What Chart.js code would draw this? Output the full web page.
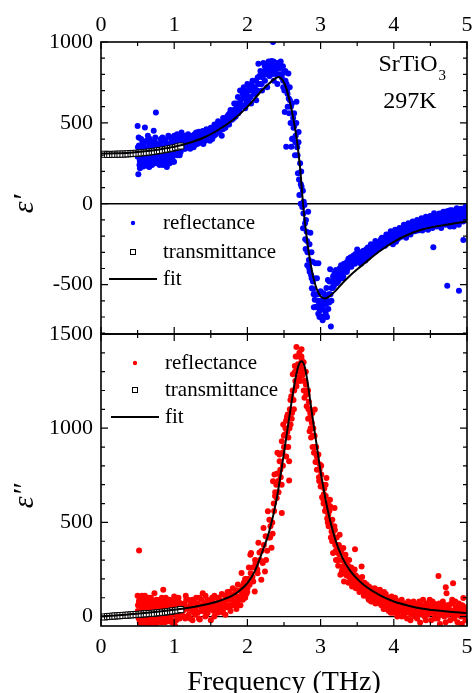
<!DOCTYPE html>
<html>
<head>
<meta charset="utf-8">
<title>SrTiO3 dielectric function</title>
<script src="https://cdn.jsdelivr.net/npm/chart.js@4.4.1/dist/chart.umd.min.js"></script>
<style>
  html, body { margin: 0; padding: 0; background: #fff; }
</style>
</head>
<body>
<canvas id="chart-eps" width="473" height="693"></canvas>
<script>
// ============================================================
// SrTiO3 297K — real (ε') and imaginary (ε'') dielectric function
// ============================================================

// ---- DATA: [frequency THz, value] ----
const reflTop = [
  [0.50,480],[0.51,183],[0.52,300],[0.53,265],[0.54,350],[0.55,240],[0.56,320],[0.57,380],[0.58,260],[0.59,300],
  [0.60,471],[0.61,250],[0.62,340],[0.63,290],[0.64,420],[0.65,230],[0.66,228],[0.67,310],[0.68,360],[0.69,270],
  [0.70,330],[0.72,451],[0.73,290],[0.74,380],[0.75,564],[0.76,250],[0.78,340],[0.79,300],[0.80,240],[0.82,380],
  [0.83,320],[0.84,410],[0.86,270],[0.87,350],[0.88,395],[0.90,228],[0.91,330],[0.92,420],[0.94,300],[0.95,370],
  [0.96,400],[0.98,290],[0.99,350],[1.00,420],[1.02,310],[1.03,380],[1.04,430],[1.06,330],[1.07,400],[1.08,350],[1.10,440],
  [1.12,360],[1.14,410],[1.15,340],[1.17,395],[1.19,430],[1.20,360],[1.22,385],[1.24,350],[1.25,420],[1.27,395],
  [1.29,365],[1.30,440],[1.32,400],[1.34,375],[1.35,430],[1.37,410],[1.39,450],[1.40,390],[1.42,425],[1.44,460],
  [1.45,405],[1.47,440],[1.49,415],
  [1.50,470],[1.52,400],[1.54,455],[1.55,490],[1.57,430],[1.59,470],[1.60,510],[1.62,445],[1.64,480],[1.65,420],
  [1.67,500],[1.69,530],[1.70,470],[1.72,510],[1.74,550],[1.75,490],[1.77,580],[1.79,520],[1.80,560],[1.82,620],
  [1.84,540],[1.85,600],[1.87,660],[1.89,580],[1.90,700],[1.92,610],[1.94,650],[1.95,720],[1.97,590],[1.99,680],[2.00,740],
  [2.02,650],[2.04,700],[2.05,620],[2.07,760],[2.09,680],[2.10,720],[2.12,640],[2.14,780],[2.15,866],[2.17,740],
  [2.19,810],[2.20,700],[2.22,870],[2.24,760],[2.25,830],[2.27,720],[2.29,880],[2.30,790],[2.32,850],[2.33,883],
  [2.35,1000],[2.36,760],[2.38,820],[2.40,870],[2.41,740],[2.43,800],[2.44,870],
  [2.46,840],[2.47,780],[2.49,720],[2.50,810],[2.51,568],[2.52,760],[2.53,352],[2.54,700],[2.55,600],[2.56,805],
  [2.57,560],[2.58,640],[2.59,500],[2.60,352],[2.61,400],[2.62,404],[2.63,470],[2.64,480],[2.65,300],[2.66,420],
  [2.67,630],[2.68,350],[2.69,188],[2.70,444],
  [2.71,54],[2.72,250],[2.73,120],[2.74,105],[2.75,-20],[2.76,-152],[2.77,12],[2.78,-8],[2.79,-220],[2.80,-100],
  [2.81,-173],[2.82,-300],[2.83,-49],[2.84,-348],[2.85,-420],[2.86,-179],[2.87,-440],[2.88,-522],[2.89,-358],[2.90,-527],
  [2.91,-460],[2.92,-594],[2.93,-368],[2.94,-636],[2.95,-461],[2.96,-560],[2.97,-368],[2.98,-620],[2.99,-660],[3.00,-540],
  [3.01,-697],[3.02,-600],[3.03,-650],[3.04,-553],[3.05,-620],[3.06,-580],[3.07,-680],[3.08,-520],[3.09,-600],[3.10,-471],
  [3.11,-560],[3.12,-481],[3.13,-405],[3.14,-759],[3.15,-520],
  [3.16,-480],[3.17,-450],[3.18,-510],[3.19,-430],[3.20,-470],[3.21,-410],[3.22,-492],[3.23,-450],[3.24,-420],[3.25,-470],
  [3.26,-400],[3.27,-440],[3.28,-380],[3.29,-430],[3.30,-400],[3.31,-450],[3.32,-370],[3.33,-410],[3.34,-390],[3.35,-420],
  [3.36,-360],[3.37,-400],[3.38,-340],[3.40,-380],[3.41,-330],[3.42,-390],[3.44,-350],[3.45,-320],[3.47,-370],[3.48,-330],[3.50,-282],
  [3.52,-360],[3.53,-330],[3.55,-370],[3.56,-310],[3.58,-340],[3.59,-300],[3.61,-350],[3.62,-320],[3.64,-290],[3.65,-330],
  [3.67,-300],[3.68,-270],[3.70,-310],[3.71,-280],[3.73,-300],[3.74,-260],[3.76,-290],[3.77,-250],[3.79,-280],[3.80,-240],
  [3.82,-270],[3.83,-230],[3.85,-250],[3.86,-220],[3.88,-260],[3.89,-230],[3.91,-200],[3.92,-240],[3.94,-210],[3.95,-230],
  [3.97,-190],[3.98,-220],
  [4.00,-215],[4.02,-195],[4.03,-235],[4.05,-185],[4.06,-215],[4.08,-175],[4.09,-205],[4.11,-165],[4.12,-200],[4.14,-175],
  [4.15,-155],[4.17,-190],[4.18,-145],[4.20,-180],[4.21,-160],[4.23,-135],[4.24,-175],[4.26,-145],[4.27,-165],[4.29,-125],
  [4.30,-160],[4.32,-140],[4.33,-165],[4.35,-120],[4.36,-150],[4.38,-130],[4.39,-165],[4.41,-115],[4.42,-145],[4.44,-125],
  [4.45,-155],[4.47,-110],[4.48,-140],
  [4.50,-120],[4.51,-90],[4.53,-140],[4.54,-269],[4.55,-58],[4.56,-110],[4.58,-80],[4.59,-130],[4.61,-70],[4.62,-100],
  [4.64,-140],[4.65,-60],[4.67,-95],[4.68,-120],[4.70,-50],[4.71,-110],[4.73,-506],[4.74,-80],[4.76,-130],[4.77,-40],
  [4.79,-100],[4.80,-70],[4.82,-140],[4.83,-50],[4.85,-90],[4.86,-28],[4.88,-120],[4.89,-537],[4.91,-60],[4.92,-100],
  [4.94,-40],[4.95,-224],[4.97,-80],[4.98,-18],[5.00,-60],
  // second sweep
  [0.505,350],[0.515,410],[0.525,240],[0.535,320],[0.545,280],[0.565,250],[0.575,300],[0.585,350],[0.605,330],[0.615,290],
  [0.625,260],[0.645,300],[0.655,370],[0.675,250],[0.685,300],[0.705,280],[0.715,380],[0.725,350],[0.745,270],[0.765,330],
  [0.775,290],[0.805,360],[0.815,280],[0.835,250],[0.845,350],[0.865,310],[0.885,260],[0.895,370],[0.925,280],[0.935,360],
  [0.955,320],[0.975,390],[0.985,260],[1.005,350],[1.015,400],[1.035,330],[1.055,410],[1.075,300],[1.085,380],[1.095,340],
  [1.115,420],[1.135,340],[1.165,380],[1.185,350],[1.215,410],[1.235,380],[1.265,350],[1.285,410],[1.315,370],[1.345,420],
  [1.365,385],[1.395,410],[1.425,390],[1.455,430],[1.485,450],[1.515,440],[1.545,420],[1.575,480],[1.605,460],[1.635,500],
  [1.665,460],[1.695,490],[1.725,540],[1.755,520],[1.785,560],[1.815,530],[1.845,580],[1.875,560],[1.905,640],[1.935,680],
  [1.965,650],[1.985,620],[2.015,700],[2.045,660],[2.075,720],[2.105,680],[2.135,700],[2.165,790],[2.195,740],[2.215,800],
  [2.245,820],[2.275,860],[2.305,830],[2.335,800],[2.365,850],[2.395,800],[2.425,840],
  [2.455,880],[2.485,850],[2.505,700],[2.535,740],[2.565,650],[2.595,600],[2.625,530],[2.655,380],[2.685,300],[2.705,150],
  [2.735,200],[2.765,-60],[2.795,-280],[2.815,-230],[2.845,-400],[2.875,-300],[2.895,-480],
  [2.905,-560],[2.935,-640],[2.965,-600],[2.985,-700],[3.015,-640],[3.045,-700],[3.075,-620],[3.105,-650],[3.135,-560],
  [3.165,-520],[3.195,-480],[3.225,-460],[3.255,-440],[3.285,-420],[3.315,-410],[3.345,-380],[3.375,-370],[3.405,-360],[3.435,-330],
  [3.465,-340],[3.495,-320],[3.525,-310],[3.555,-330],[3.585,-290],[3.615,-300],[3.645,-270],[3.675,-290],[3.705,-260],[3.735,-280],
  [3.765,-240],[3.795,-260],[3.825,-220],[3.855,-240],[3.885,-210],[3.915,-220],[3.945,-190],[3.975,-205],[4.005,-180],[4.035,-200],
  [4.065,-160],[4.095,-185],[4.125,-150],[4.155,-170],[4.185,-140],[4.215,-160],[4.245,-130],[4.275,-150],[4.305,-120],[4.335,-135],
  [4.365,-110],[4.395,-130],[4.425,-100],[4.455,-120],[4.485,-90],[4.515,-115],[4.545,-95],[4.575,-120],[4.605,-85],[4.635,-110],
  [4.665,-75],[4.695,-100],[4.725,-65],[4.755,-95],[4.785,-60],[4.815,-90],[4.845,-55],[4.875,-80],[4.905,-45],[4.935,-85],
  [4.965,-50],[4.985,-75],
  // third sweep
  [0.502,290],[0.518,360],[0.532,220],[0.548,400],[0.562,340],[0.578,230],[0.592,380],[0.608,270],[0.622,390],[0.638,320],
  [0.652,260],[0.668,400],[0.682,330],[0.698,240],[0.712,300],[0.728,260],[0.742,410],[0.758,300],[0.772,360],[0.788,260],
  [0.802,310],[0.818,400],[0.832,290],[0.848,240],[0.862,390],[0.878,300],[0.892,340],[0.908,280],[0.922,370],[0.938,250],
  [0.952,410],[0.968,340],[0.982,310],[0.998,260],[1.012,360],[1.028,420],[1.042,300],[1.058,370],[1.072,420],[1.088,320],
  [1.128,380],[1.158,420],[1.188,400],[1.218,340],[1.248,400],[1.278,430],[1.308,380],[1.338,445],[1.368,400],[1.398,370],
  [1.428,440],[1.458,420],[1.488,390],[1.518,460],[1.548,470],[1.578,450],[1.608,480],[1.638,460],[1.668,530],[1.698,510],
  [1.728,490],[1.758,560],[1.788,540],[1.818,580],[1.848,620],[1.878,610],[1.908,600],[1.938,700],[1.968,690],[1.998,640],
  [2.028,720],[2.058,740],[2.088,700],[2.118,760],[2.148,740],[2.178,820],[2.208,780],[2.238,850],[2.268,800],[2.298,860],
  [2.328,820],[2.358,880],[2.388,850],[2.418,860],
  [2.458,800],[2.488,760],[2.518,820],[2.548,680],[2.578,720],[2.608,620],[2.638,560],[2.668,500],[2.698,380],[2.728,0],
  [2.758,80],[2.788,-120],[2.818,-380],[2.848,-250],[2.878,-460],[2.908,-640],[2.938,-560],[2.968,-680],[2.998,-600],[3.028,-720],
  [3.058,-660],[3.088,-700],[3.118,-610],[3.148,-600],
  [3.178,-500],[3.208,-440],[3.238,-480],[3.268,-420],[3.298,-460],[3.328,-390],[3.358,-420],[3.388,-350],[3.418,-380],[3.448,-360],
  [3.478,-310],[3.508,-350],[3.538,-300],[3.568,-340],[3.598,-320],[3.628,-280],[3.658,-310],[3.688,-250],[3.718,-290],[3.748,-230],
  [3.778,-270],[3.808,-250],[3.838,-210],[3.868,-250],[3.898,-190],[3.928,-230],[3.958,-170],[3.988,-250],[4.018,-160],[4.048,-220],
  [4.078,-150],[4.108,-200],[4.138,-130],[4.168,-210],[4.198,-120],[4.228,-190],[4.258,-110],[4.288,-170],[4.318,-100],[4.348,-160],
  [4.378,-90],[4.408,-150],[4.438,-80],[4.468,-160],[4.498,-75],[4.528,-150],[4.558,-70],[4.588,-140],[4.618,-60],[4.648,-150],
  [4.678,-50],[4.708,-130],[4.738,-45],[4.768,-140],[4.798,-40],[4.828,-120],[4.858,-35],[4.888,-130],[4.918,-30],[4.948,-110],
  [4.978,-40]
];

const reflBot = [
  [0.50,110],[0.51,20],[0.52,351],[0.53,-30],[0.54,60],[0.55,-44],[0.56,110],[0.57,40],[0.58,0],[0.59,80],
  [0.60,110],[0.61,-20],[0.62,50],[0.63,20],[0.64,-40],[0.65,70],[0.66,10],[0.67,90],[0.68,-35],[0.69,30],
  [0.70,60],[0.72,-10],[0.73,124],[0.74,40],[0.75,-40],[0.76,20],[0.78,70],[0.79,-20],[0.80,50],[0.82,10],
  [0.83,80],[0.84,-30],[0.85,142],[0.86,30],[0.88,60],[0.89,0],[0.90,90],[0.92,20],[0.93,-25],[0.94,50],
  [0.96,75],[0.97,10],[0.98,40],[1.00,106],[1.01,-48],[1.02,30],[1.04,60],[1.05,0],[1.06,80],[1.08,20],[1.10,50],
  [1.12,30],[1.14,70],[1.15,-10],[1.17,50],[1.19,90],[1.20,10],[1.22,60],[1.24,30],[1.25,-20],[1.27,80],
  [1.29,40],[1.30,100],[1.32,20],[1.34,60],[1.35,-15],[1.37,50],[1.39,124],[1.40,30],[1.42,70],[1.44,10],
  [1.45,90],[1.47,40],[1.49,60],[1.50,-20],[1.52,80],[1.54,30],[1.55,110],[1.57,50],[1.59,70],
  [1.60,20],[1.62,90],[1.64,60],[1.65,120],[1.67,40],[1.69,80],[1.70,10],[1.72,100],[1.74,60],[1.75,130],
  [1.77,30],[1.79,90],[1.80,150],[1.82,60],[1.84,110],[1.85,40],[1.87,170],[1.89,90],[1.90,140],[1.92,231],
  [1.94,120],[1.95,180],
  [1.97,100],[1.99,200],[2.00,150],[2.02,260],[2.03,169],[2.04,328],[2.05,337],[2.07,210],[2.08,186],[2.10,133],
  [2.11,280],[2.12,275],[2.14,230],[2.15,392],[2.17,300],[2.19,195],[2.20,293],[2.21,284],[2.22,470],[2.24,239],
  [2.25,426],[2.27,350],[2.28,559],[2.30,514],[2.31,420],[2.33,365],[2.34,500],
  [2.35,718],[2.36,600],[2.37,754],[2.38,660],[2.40,630],[2.41,869],[2.42,720],[2.44,824],[2.45,780],[2.47,931],
  [2.47,550],[2.48,870],[2.49,1020],[2.50,900],[2.51,966],[2.52,1000],[2.53,850],[2.54,1060],[2.55,1073],[2.56,950],
  [2.57,824],[2.57,723],[2.58,1100],[2.59,1020],[2.60,1170],
  [2.61,1080],[2.62,1286],[2.63,1150],[2.64,1200],[2.65,1300],[2.66,1380],[2.67,1431],[2.67,1222],[2.68,1250],[2.69,1340],
  [2.70,1300],[2.71,1400],[2.72,1250],[2.73,1330],[2.74,1419],[2.74,1365],[2.75,1280],[2.76,1310],[2.77,1200],[2.78,1162],
  [2.79,1250],[2.80,1230],
  [2.81,1117],[2.82,1180],[2.83,1050],[2.84,1140],[2.85,984],[2.86,1060],[2.87,950],[2.88,1029],[2.89,900],[2.90,1000],
  [2.91,870],[2.92,1099],[2.93,820],[2.94,900],[2.95,780],[2.96,860],[2.97,860],[2.98,720],[2.99,807],[3.00,690],
  [3.01,754],[3.02,633],[3.03,700],[3.04,600],[3.05,680],[3.06,560],[3.07,640],[3.08,736],[3.09,520],[3.10,600],
  [3.11,480],[3.12,560],[3.13,585],[3.14,420],[3.15,452],[3.16,514],[3.17,337],[3.18,400],[3.19,577],[3.20,380],
  [3.21,300],[3.22,420],[3.23,340],[3.24,270],[3.25,380],[3.26,435],[3.27,222],[3.28,300],[3.29,239],[3.30,266],
  [3.31,364],[3.32,186],[3.33,280],[3.34,328],[3.35,220],
  [3.36,250],[3.38,180],[3.39,300],[3.40,248],[3.41,200],[3.43,160],[3.44,230],[3.46,190],[3.47,358],[3.48,150],
  [3.50,210],[3.51,170],[3.53,130],[3.54,200],[3.56,266],[3.57,150],[3.59,110],[3.60,180],[3.62,130],[3.63,142],
  [3.65,100],[3.66,160],[3.68,120],[3.69,80],[3.71,140],[3.72,100],[3.74,150],[3.75,70],[3.77,120],[3.78,90],
  [3.80,110],[3.81,142],[3.83,60],[3.84,100],[3.86,40],[3.87,90],[3.89,120],[3.90,50],[3.92,80],[3.93,30],
  [3.95,100],[3.96,60],[3.97,106],[3.99,20],[4.00,70],[4.02,40],[4.03,90],[4.05,10],[4.06,60],[4.08,30],
  [4.09,80],[4.11,0],[4.12,50],[4.14,20],[4.15,70],[4.17,30],[4.18,-10],[4.20,50],[4.21,20],[4.23,60],
  [4.24,10],[4.26,40],[4.27,80],[4.29,0],
  [4.30,30],[4.31,62],[4.33,10],[4.34,50],[4.36,-32],[4.37,20],[4.39,60],[4.40,89],[4.42,0],[4.43,40],
  [4.45,70],[4.46,10],[4.48,30],[4.49,89],[4.51,-20],[4.52,50],[4.54,20],[4.55,70],[4.57,0],[4.58,40],
  [4.60,-10],[4.61,216],[4.63,-39],[4.64,60],[4.66,20],[4.67,80],[4.69,0],[4.70,40],[4.71,156],[4.72,124],
  [4.74,10],[4.75,60],[4.77,-20],[4.78,30],[4.80,70],[4.81,177],[4.82,0],[4.84,80],[4.85,30],[4.87,-30],
  [4.88,50],[4.90,10],[4.91,60],[4.93,-40],[4.94,30],[4.95,99],[4.97,0],[4.98,50],[5.00,36],
  // second sweep
  [0.505,60],[0.515,-10],[0.525,90],[0.535,30],[0.545,-20],[0.565,50],[0.575,-30],[0.585,100],[0.605,20],[0.615,70],
  [0.625,-40],[0.645,40],[0.655,100],[0.675,0],[0.685,50],[0.705,-20],[0.715,80],[0.725,30],[0.745,70],[0.765,-10],
  [0.775,40],[0.805,90],[0.815,-30],[0.835,40],[0.845,70],[0.865,-10],[0.885,100],[0.895,30],[0.925,60],[0.935,0],
  [0.955,40],[0.975,70],[0.985,-20],[1.005,50],[1.015,20],[1.035,90],[1.055,40],[1.075,-10],[1.085,60],[1.095,30],
  [1.115,60],[1.135,0],[1.165,90],[1.185,40],[1.215,-10],[1.235,70],[1.265,40],[1.285,10],[1.315,70],[1.345,100],
  [1.365,30],[1.395,60],[1.425,0],[1.455,50],[1.485,80],[1.515,40],[1.545,60],[1.575,100],[1.605,50],[1.635,30],
  [1.665,80],[1.695,110],[1.725,50],[1.755,90],[1.785,60],[1.815,120],[1.845,80],[1.875,100],[1.905,60],[1.935,160],
  [1.965,140],[1.985,120],[2.015,200],[2.045,230],[2.075,260],[2.105,300],[2.135,250],[2.165,340],[2.195,350],[2.225,380],
  [2.255,300],[2.285,420],[2.315,480],[2.345,440],
  [2.365,560],[2.395,700],[2.425,660],[2.455,740],[2.485,800],[2.515,900],[2.545,980],[2.575,1000],[2.605,1050],[2.635,1100],
  [2.655,1250],[2.685,1320],[2.715,1340],[2.745,1300],[2.775,1250],[2.805,1180],[2.835,1100],[2.865,1000],[2.895,960],[2.925,900],
  [2.955,820],[2.985,780],[3.015,700],[3.045,650],[3.075,580],[3.105,540],[3.135,500],[3.165,440],[3.195,460],[3.225,380],
  [3.255,330],[3.285,340],[3.315,300],[3.345,260],[3.375,270],[3.405,230],[3.435,200],[3.465,250],[3.495,180],[3.525,190],
  [3.555,160],[3.585,170],[3.615,150],[3.645,120],[3.675,140],[3.705,110],[3.735,120],[3.765,100],[3.795,80],[3.825,120],
  [3.855,70],[3.885,90],[3.915,60],[3.945,80],[3.975,50],[4.005,60],[4.035,30],[4.065,50],[4.095,40],[4.125,70],
  [4.155,20],[4.185,50],[4.215,30],[4.245,70],[4.275,20],[4.305,50],[4.335,30],[4.365,60],[4.395,10],[4.425,50],
  [4.455,30],[4.485,60],[4.515,20],[4.545,40],[4.575,60],[4.605,20],[4.635,50],[4.665,30],[4.695,60],[4.725,20],
  [4.755,40],[4.785,70],[4.815,30],[4.845,50],[4.875,10],[4.905,40],[4.935,60],[4.965,20],[4.985,40],
  // third sweep
  [0.502,30],[0.518,80],[0.532,-20],[0.548,100],[0.562,10],[0.578,60],[0.592,-40],[0.608,90],[0.622,30],[0.638,-10],
  [0.652,60],[0.668,-30],[0.682,100],[0.698,40],[0.712,-5],[0.728,70],[0.742,-30],[0.758,90],[0.772,10],[0.788,50],
  [0.802,-10],[0.818,60],[0.832,100],[0.848,10],[0.862,50],[0.878,-30],[0.892,70],[0.908,40],[0.922,-10],[0.938,90],
  [0.952,20],[0.968,-30],[0.982,80],[0.998,30],[1.012,70],[1.028,-20],[1.042,40],[1.058,100],[1.072,20],[1.088,70],
  [1.128,40],[1.158,110],[1.188,0],[1.218,50],[1.248,90],[1.278,20],[1.308,60],[1.338,-10],[1.368,90],[1.398,40],
  [1.428,110],[1.458,20],[1.488,70],[1.518,100],[1.548,0],[1.578,60],[1.608,100],[1.638,70],[1.668,20],[1.698,60],
  [1.728,130],[1.758,50],[1.788,110],[1.818,80],[1.848,140],[1.878,60],[1.908,110],[1.938,90],[1.968,200],[1.998,130],
  [2.378,640],[2.408,760],[2.438,860],[2.468,700],[2.498,960],[2.528,1040],[2.558,900],[2.588,1150],[2.618,1200],[2.648,1330],
  [2.678,1380],[2.708,1270],[2.738,1380],[2.768,1350],[2.798,1300],[2.828,1200],[2.858,1080],[2.888,1080],[2.918,960],[2.948,850],
  [2.978,740],[3.008,800],[3.038,620],[3.068,700],[3.098,500],[3.128,620],[3.158,400],[3.188,480],
  [3.208,350],[3.238,300],[3.268,360],[3.298,250],[3.328,230],[3.358,300],[3.388,210],[3.418,260],[3.448,170],[3.478,220],
  [3.508,150],[3.538,180],[3.568,210],[3.598,130],[3.628,170],[3.658,90],[3.688,150],[3.718,80],[3.748,120],[3.778,140],
  [3.808,70],[3.838,90],[3.868,130],[3.898,40],[3.928,100],[3.958,20],[3.988,80],[4.018,100],[4.048,0],[4.078,60],
  [4.108,90],[4.138,10],[4.168,50],[4.198,80],[4.228,-20],[4.258,40],[4.288,60],[4.318,-10],[4.348,80],[4.378,30],
  [4.408,50],[4.438,-20],[4.468,50],[4.498,20],[4.528,80],[4.558,-10],[4.588,30],[4.618,70],[4.648,10],[4.678,40],
  [4.708,-30],[4.738,60],[4.768,20],[4.798,90],[4.828,-10],[4.858,40],[4.888,70],[4.918,0],[4.948,50],[4.978,-20]
];

const transTop = [
  [0.05,306],[0.09,305],[0.12,305],[0.16,305],[0.19,306],[0.23,306],[0.26,307],[0.30,307],[0.34,308],[0.37,309],
  [0.41,310],[0.44,311],[0.48,312],[0.52,313],[0.55,315],[0.59,316],[0.62,318],[0.66,320],[0.70,322],[0.73,324],
  [0.77,327],[0.80,329],[0.84,332],[0.88,335],[0.91,338],[0.95,341],[0.98,344],[1.02,348],[1.05,352],[1.09,357]
];

const transBot = [
  [0.05,-2],[0.09,0],[0.12,1],[0.16,2],[0.19,3],[0.23,4],[0.26,5],[0.30,6],[0.34,7],[0.37,8],
  [0.41,9],[0.44,10],[0.48,11],[0.52,12],[0.55,13],[0.59,14],[0.62,15],[0.66,16],[0.70,17],[0.73,18],
  [0.77,20],[0.80,21],[0.84,23],[0.88,24],[0.91,26],[0.95,28],[0.98,30],[1.02,32],[1.05,34],[1.09,37]
];

const fitTop = [
  [0,310],[0.2,312],[0.4,316],[0.6,324],[0.8,336],[1.0,352],[1.2,376],[1.4,408],[1.6,456],[1.8,518],
  [2.0,599],[2.1,650],[2.2,702],[2.3,745],[2.38,775],[2.43,784],[2.48,765],[2.53,715],[2.58,630],[2.63,520],
  [2.68,380],[2.72,220],[2.76,0],[2.8,-170],[2.85,-335],[2.9,-455],[2.95,-530],[3.0,-572],[3.06,-585],[3.12,-572],
  [3.2,-540],[3.3,-490],[3.4,-445],[3.5,-405],[3.6,-368],[3.8,-295],[4.0,-235],[4.2,-190],[4.4,-158],[4.6,-138],
  [4.8,-123],[5.0,-111]
];

const fitBot = [
  [0,2],[0.2,6],[0.4,12],[0.6,19],[0.8,27],[1.0,36],[1.2,47],[1.4,61],[1.6,81],[1.8,112],
  [1.9,140],[2.0,178],[2.1,240],[2.2,340],[2.3,455],[2.4,625],[2.5,870],[2.55,1000],[2.6,1130],[2.65,1250],
  [2.7,1335],[2.74,1356],[2.78,1330],[2.82,1250],[2.86,1140],[2.9,1030],[2.95,900],[3.0,770],[3.05,660],[3.1,560],
  [3.2,410],[3.3,310],[3.4,245],[3.5,200],[3.6,165],[3.8,115],[4.0,80],[4.2,58],[4.4,42],[4.6,32],
  [4.8,24],[5.0,18]
];

const yTopTicks    = [-500, 0, 500, 1000];
const yBotTicks    = [0, 500, 1000, 1500];
const xTicks       = [0, 1, 2, 3, 4, 5];
const legendLabels = ['reflectance', 'transmittance', 'fit'];
const yTitles      = { yTop: 'ε′', yBot: 'ε″' };
const xTitle       = 'Frequency (THz)';

// ---- STYLE ----
const SERIF = '"Liberation Serif", "Times New Roman", Times, serif';
const BLUE  = '#0000ff';
const RED   = '#ff0000';
const toXY  = arr => arr.map(([x, y]) => ({ x, y }));

// ---- FRAMES, INWARD TICKS, LEGENDS, LABELS ----
const chartDecor = {
  id: 'chartDecor',
  beforeDatasetsDraw(chart) {
    const { ctx, scales: { x } } = chart;
    ctx.save();
    ctx.strokeStyle = '#000';
    ctx.lineWidth = 1.4;
    ['yTop', 'yBot'].forEach(id => {
      const py = chart.scales[id].getPixelForValue(0);
      ctx.beginPath();
      ctx.moveTo(x.left, py);
      ctx.lineTo(x.right, py);
      ctx.stroke();
    });
    ctx.restore();
  },
  afterDatasetsDraw(chart) {
    const { ctx, scales: { x } } = chart;
    ctx.save();
    ctx.strokeStyle = '#000';
    ['yTop', 'yBot'].forEach(id => {
      const y = chart.scales[id];
      const top = y.top, bottom = y.bottom, left = x.left, right = x.right;
      ctx.lineWidth = 1.6;
      ctx.strokeRect(left, top, right - left, bottom - top);

      ctx.lineWidth = 1.2;
      for (let v = 0; v <= 5.001; v += 0.5) {
        const px = x.getPixelForValue(v);
        const len = Math.abs(v - Math.round(v)) < 1e-6 ? 7 : 4;
        ctx.beginPath();
        ctx.moveTo(px, top);    ctx.lineTo(px, top + len);
        ctx.moveTo(px, bottom); ctx.lineTo(px, bottom - len);
        ctx.stroke();
      }
      for (let v = Math.ceil(y.min / 100) * 100; v <= y.max; v += 100) {
        const py = y.getPixelForValue(v);
        const len = v % 500 === 0 ? 7 : 4;
        ctx.beginPath();
        ctx.moveTo(left, py);  ctx.lineTo(left + len, py);
        ctx.moveTo(right, py); ctx.lineTo(right - len, py);
        ctx.stroke();
      }
    });
    ctx.restore();
  },
  afterDraw(chart) {
    const { ctx, scales: { x, yTop, yBot } } = chart;
    ctx.save();
    ctx.fillStyle = '#000';

    // legends inside each panel
    const drawLegend = (rowY, color, dx) => {
      const mx = x.left + 32 + dx, tx = x.left + 62 + dx;
      ctx.fillStyle = color;
      ctx.beginPath(); ctx.arc(mx, rowY[0], 2.2, 0, Math.PI * 2); ctx.fill();
      ctx.fillStyle = '#fff'; ctx.strokeStyle = '#000'; ctx.lineWidth = 1;
      ctx.fillRect(mx - 2.5, rowY[1] - 2.5, 5, 5);
      ctx.strokeRect(mx - 2.5, rowY[1] - 2.5, 5, 5);
      ctx.lineWidth = 2;
      ctx.beginPath(); ctx.moveTo(x.left + 8 + dx, rowY[2]); ctx.lineTo(x.left + 56 + dx, rowY[2]); ctx.stroke();
      ctx.fillStyle = '#000';
      ctx.font = `21px ${SERIF}`;
      ctx.textAlign = 'left'; ctx.textBaseline = 'middle';
      legendLabels.forEach((t, i) => ctx.fillText(t, tx, rowY[i]));
    };
    drawLegend([yTop.top + 181, yTop.top + 210, yTop.top + 237], BLUE, 0);
    drawLegend([yBot.top + 29,  yBot.top + 56,  yBot.top + 83],  RED, 2);

    // sample annotation
    ctx.font = `24px ${SERIF}`;
    ctx.textBaseline = 'middle';
    const main = 'SrTiO', wMain = ctx.measureText(main).width;
    const sx = x.right - 59 - wMain / 2;
    ctx.textAlign = 'left';
    ctx.fillText(main, sx, yTop.top + 23);
    ctx.font = `15px ${SERIF}`;
    ctx.fillText('3', sx + wMain + 1, yTop.top + 34);
    ctx.font = `24px ${SERIF}`;
    ctx.textAlign = 'center';
    ctx.fillText('297K', x.right - 57, yTop.top + 60);

    // rotated y titles
    ctx.font = `italic 30px ${SERIF}`;
    [['yTop', yTop], ['yBot', yBot]].forEach(([id, s]) => {
      ctx.save();
      ctx.translate(25, (s.top + s.bottom) / 2 + 16);
      ctx.rotate(-Math.PI / 2);
      ctx.textAlign = 'center'; ctx.textBaseline = 'middle';
      ctx.fillText(yTitles[id], 0, 0);
      ctx.restore();
    });
    ctx.restore();
  }
};

// ---- AXIS HELPERS ----
const tickFont = { family: SERIF, size: 22 };
const fixTicks = vals => s => { s.ticks = vals.map(value => ({ value })); };

function xAxis(position, height, pad, withTitle) {
  return {
    type: 'linear', position, min: 0, max: 5,
    grid: { display: false, drawTicks: false },
    border: { display: false },
    ticks: { color: '#000', font: tickFont, padding: pad, maxRotation: 0, callback: v => String(v) },
    afterBuildTicks: fixTicks(xTicks),
    title: {
      display: withTitle, text: xTitle, color: '#000',
      font: { family: SERIF, size: 28, lineHeight: 0.75 }, padding: { top: 0, bottom: 0 }
    },
    // fixed height; let the last tick label run to the canvas edge
    afterFit: s => { s.height = height; s.paddingLeft = 0; s.paddingRight = 0; }
  };
}
function yAxis(min, max, weight, vals) {
  return {
    type: 'linear', position: 'left', stack: 'eps', stackWeight: 1, weight, min, max,
    grid: { display: false, drawTicks: false },
    border: { display: false },
    ticks: { color: '#000', font: tickFont, padding: 8, callback: v => String(v) },
    afterBuildTicks: fixTicks(vals),
    afterFit: s => { s.width = 101; }
  };
}

new Chart(document.getElementById('chart-eps'), {
  type: 'scatter',
  data: {
    datasets: [
      { label: 'fit', data: toXY(fitTop), yAxisID: 'yTop', showLine: true, borderColor: '#000',
        borderWidth: 2, pointRadius: 0, cubicInterpolationMode: 'monotone', fill: false },
      { label: 'fit', data: toXY(fitBot), yAxisID: 'yBot', showLine: true, borderColor: '#000',
        borderWidth: 2, pointRadius: 0, cubicInterpolationMode: 'monotone', fill: false },
      { label: 'transmittance', data: toXY(transTop), yAxisID: 'yTop', pointStyle: 'rect', pointRadius: 4.3,
        backgroundColor: '#fff', borderColor: '#000', borderWidth: 1 },
      { label: 'transmittance', data: toXY(transBot), yAxisID: 'yBot', pointStyle: 'rect', pointRadius: 4.3,
        backgroundColor: '#fff', borderColor: '#000', borderWidth: 1 },
      { label: 'reflectance', data: toXY(reflTop), yAxisID: 'yTop', pointStyle: 'circle', pointRadius: 3,
        backgroundColor: BLUE, borderWidth: 0 },
      { label: 'reflectance', data: toXY(reflBot), yAxisID: 'yBot', pointStyle: 'circle', pointRadius: 3,
        backgroundColor: RED, borderWidth: 0 }
    ]
  },
  options: {
    responsive: false,
    animation: false,
    events: [],
    layout: { padding: { left: 0, top: 0, bottom: 0, right: 6 } },
    plugins: { legend: { display: false }, tooltip: { enabled: false } },
    scales: {
      x:    xAxis('bottom', 67, 8, true),
      xTop: xAxis('top', 42, 4, false),
      yTop: yAxis(-805, 1000, 2, yTopTicks),
      yBot: yAxis(-50, 1500, 1, yBotTicks)
    }
  },
  plugins: [chartDecor]
});
</script>
</body>
</html>
